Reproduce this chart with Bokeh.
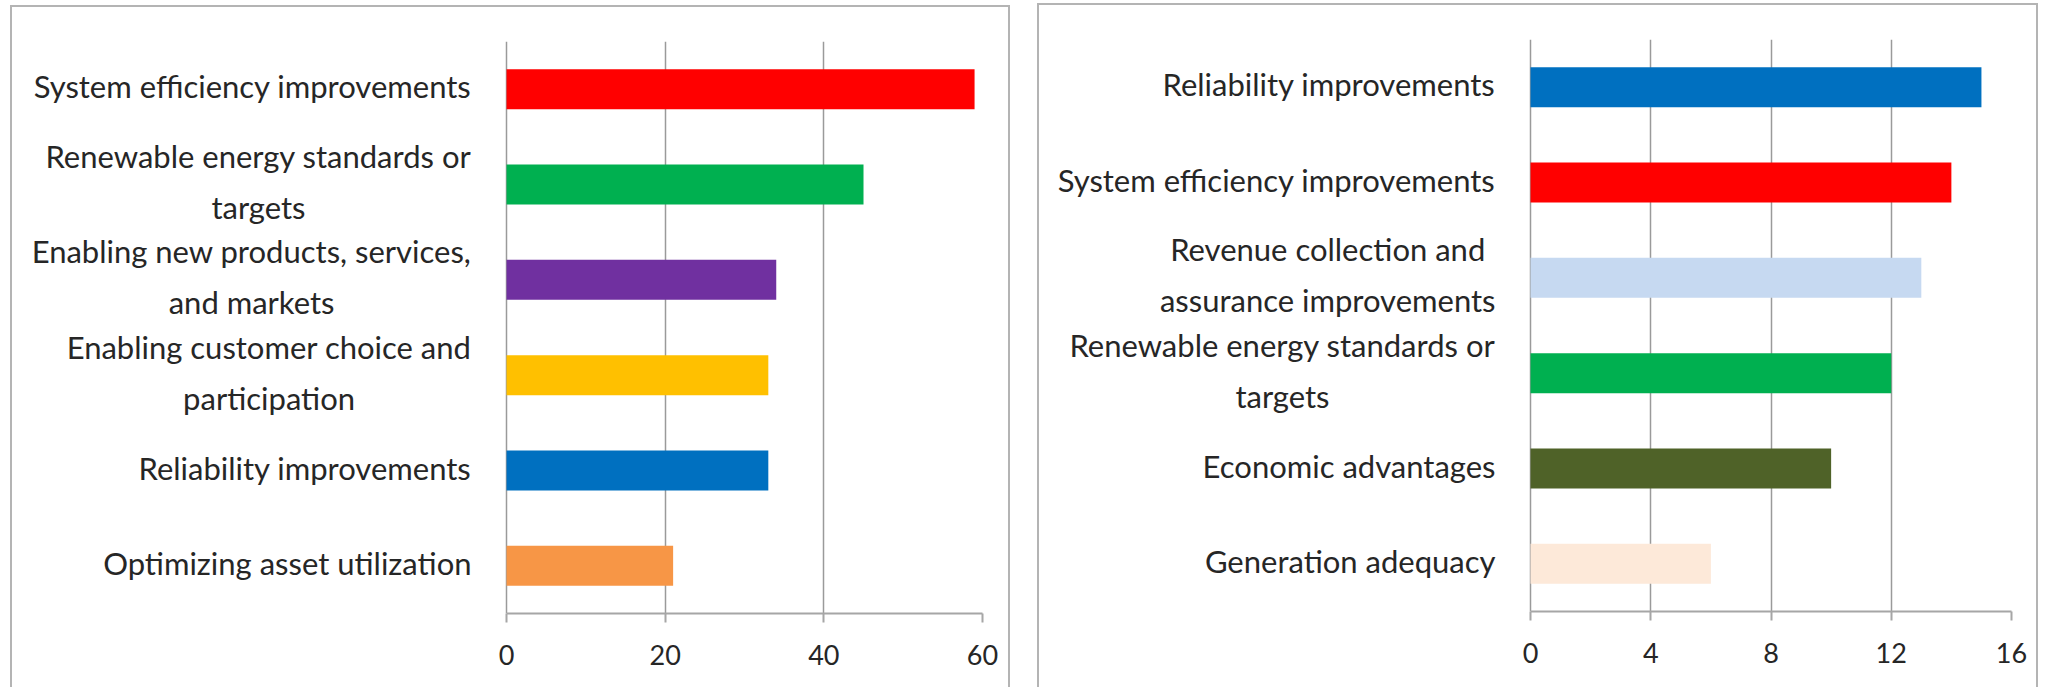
from bokeh.plotting import figure
from bokeh.layouts import row
from bokeh.models import FactorRange, Range1d, FixedTicker, Label
from bokeh.embed import file_html
from bokeh.resources import INLINE

# ---- data ----
left_categories = [
    "System efficiency improvements",
    "Renewable energy standards or\ntargets",
    "Enabling new products, services,\nand markets",
    "Enabling customer choice and\nparticipation",
    "Reliability improvements",
    "Optimizing asset utilization",
]
left_values = [59, 45, 34, 33, 33, 21]
left_colors = ["#FF0000", "#00B050", "#7030A0", "#FFC000", "#0070C0", "#F79646"]
left_ticks = [0, 20, 40, 60]

right_categories = [
    "Reliability improvements",
    "System efficiency improvements",
    "Revenue collection and\nassurance improvements",
    "Renewable energy standards or\ntargets",
    "Economic advantages",
    "Generation adequacy",
]
right_values = [15, 14, 13, 12, 10, 6]
right_colors = ["#0070C0", "#FF0000", "#C6D9F1", "#00B050", "#4F6228", "#FDE9D9"]
right_ticks = [0, 4, 8, 12, 16]

FONT = "Lato"
LABEL_COLOR = "#262626"
GRID = "#9a9a9a"
FRAME_CSS = ":host { border: 2px solid #b4b4b4; border-bottom: none; }"


def make_panel(cats, vals, colors, ticks, width, height, label_px, bar_px, mb_right, mb_top, mb_bottom):
    factors = list(reversed(cats))
    lo, hi = ticks[0], ticks[-1]
    # the frame also holds the label area to the left of zero
    start = lo - (hi - lo) * label_px / bar_px
    p = figure(
        y_range=FactorRange(*factors),
        x_range=Range1d(start, hi),
        width=width, height=height,
        frame_width=label_px + bar_px, frame_height=570,
        min_border_left=0, min_border_right=mb_right,
        min_border_top=mb_top, min_border_bottom=mb_bottom,
        output_backend="svg", toolbar_location=None,
    )
    p.stylesheets = [FRAME_CSS]
    p.hbar(y=cats, right=vals, left=0, height=0.42, fill_color=colors, line_color=None)
    p.outline_line_color = None
    p.background_fill_color = "white"
    p.border_fill_color = "white"

    p.xaxis.ticker = FixedTicker(ticks=ticks)
    p.xaxis.bounds = (lo, hi)
    p.xaxis.axis_line_color = "#a6a6a6"
    p.xaxis.axis_line_width = 2
    p.xaxis.major_tick_line_color = "#a6a6a6"
    p.xaxis.major_tick_line_width = 2
    p.xaxis.major_tick_in = 0
    p.xaxis.major_tick_out = 9
    p.xaxis.minor_tick_line_color = None
    p.xaxis.major_label_text_font = FONT
    p.xaxis.major_label_text_font_size = "27px"
    p.xaxis.major_label_text_color = LABEL_COLOR
    p.xaxis.major_label_standoff = 22

    p.yaxis.visible = False

    # category labels: block anchored right of the axis, lines centred
    for cat in cats:
        ycenter = factors.index(cat) + 0.5  # synthetic centre of the factor
        p.add_layout(Label(
            x=0, y=ycenter, x_offset=-35, y_offset=3, text=cat,
            anchor="center_right", text_align="center", text_baseline="middle",
            text_font=FONT, text_font_size="31px", text_color=LABEL_COLOR,
            text_line_height=1.35,
        ))

    p.xgrid.ticker = FixedTicker(ticks=ticks)
    p.xgrid.bounds = (lo, hi)
    p.xgrid.grid_line_color = GRID
    p.xgrid.grid_line_width = 1.5
    p.ygrid.grid_line_color = None
    return p


p1 = make_panel(left_categories, left_values, left_colors, left_ticks,
                996, 680, 492, 474, 30, 34, 76)
p1.margin = (5, 0, 0, 10)
p2 = make_panel(right_categories, right_values, right_colors, right_ticks,
                997, 682, 489, 479, 29, 33, 79)
p2.margin = (3, 0, 0, 27)

layout = row(p1, p2)
open("out.html", "w").write(file_html(layout, INLINE))
